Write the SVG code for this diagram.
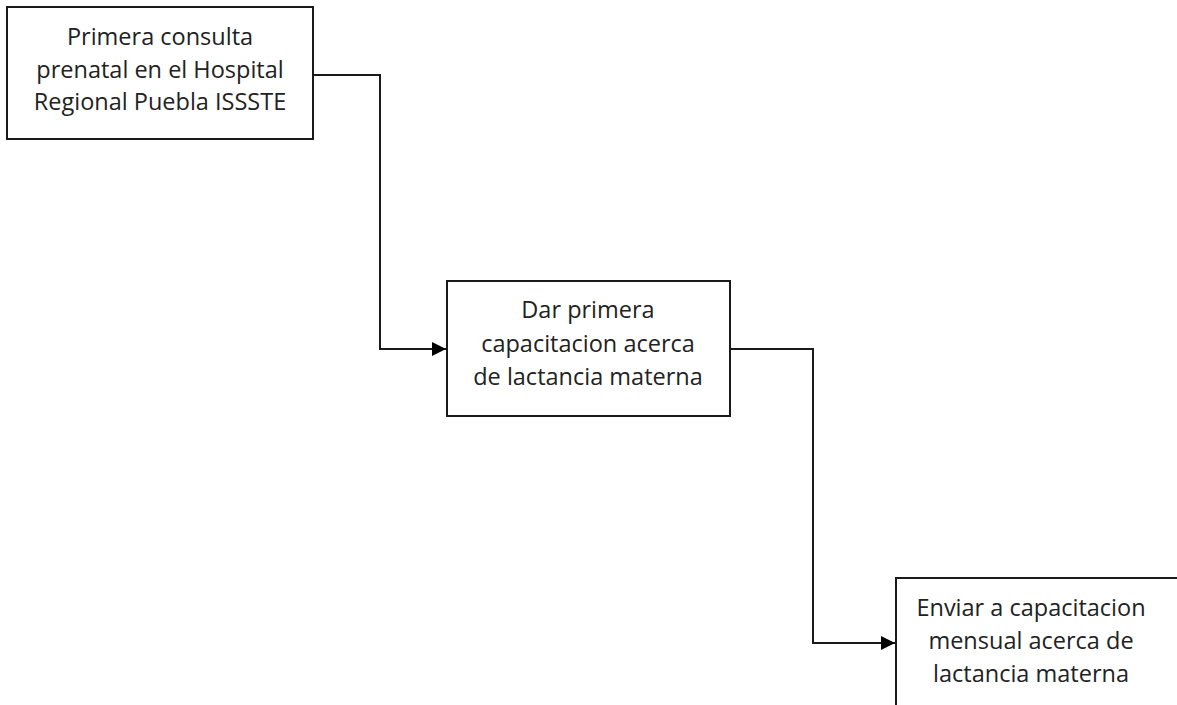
<svg xmlns="http://www.w3.org/2000/svg" width="1177" height="705" viewBox="0 0 1177 705">
<style>
.box{fill:#fff;stroke:#1a1a1a;stroke-width:2}
.t{font-family:"Open Sans","Liberation Sans",sans-serif;font-size:23.5px;fill:#222;text-anchor:middle}
.c{fill:none;stroke:#1a1a1a;stroke-width:2}
</style>
<defs>
<marker id="arr" viewBox="0 0 10 10" refX="10" refY="5" markerWidth="14" markerHeight="14" markerUnits="userSpaceOnUse" orient="auto">
<path d="M0,0 L10,5 L0,10 z" fill="#000"/>
</marker>
</defs>
<rect width="1177" height="705" fill="#fff"/>
<g id="connectors">
<path class="c" d="M313,75 H380 V349 H446" marker-end="url(#arr)"/>
<path class="c" d="M730,349 H813 V643 H895" marker-end="url(#arr)"/>
</g>
<g id="n1">
<rect class="box" x="7" y="7" width="306" height="132"/>
<text class="t" x="160" y="45">Primera consulta</text>
<text class="t" x="160" y="78">prenatal en el Hospital</text>
<text class="t" x="160" y="110">Regional Puebla ISSSTE</text>
</g>
<g id="n2">
<rect class="box" x="447" y="281" width="283" height="135"/>
<text class="t" x="588" y="318">Dar primera</text>
<text class="t" x="588" y="352">capacitacion acerca</text>
<text class="t" x="588" y="385">de lactancia materna</text>
</g>
<g id="n3">
<rect class="box" x="896" y="578" width="300" height="150"/>
<text class="t" x="1031" y="616">Enviar a capacitacion</text>
<text class="t" x="1031" y="649">mensual acerca de</text>
<text class="t" x="1031" y="682">lactancia materna</text>
</g>
</svg>
